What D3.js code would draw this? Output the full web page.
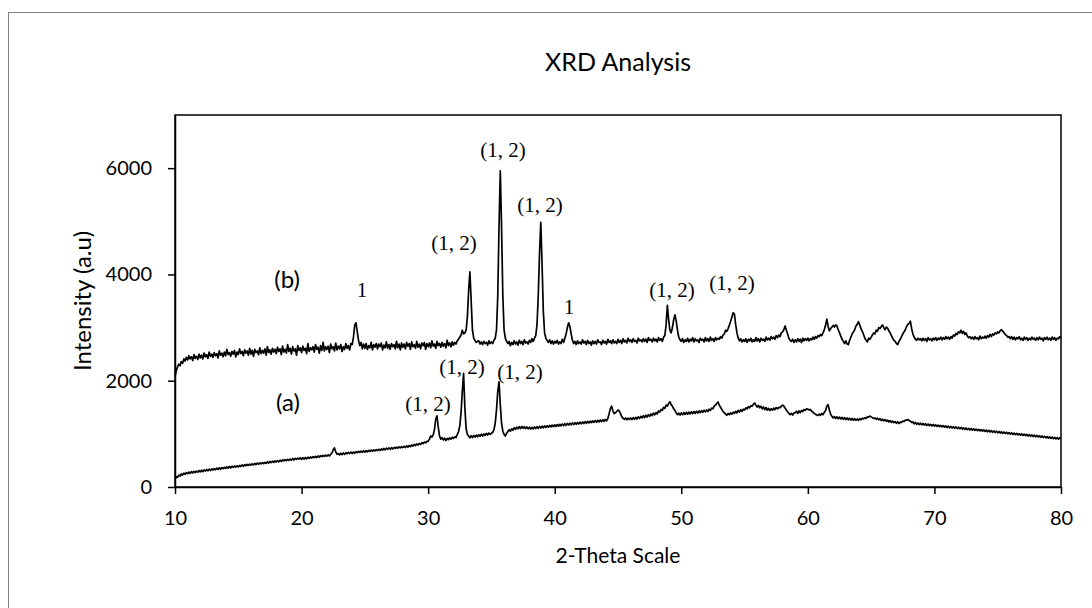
<!DOCTYPE html>
<html>
<head>
<meta charset="utf-8">
<script src="https://cdn.jsdelivr.net/npm/d3@7"></script>
<style>
  body { margin: 0; background: #fff; }
  svg { display: block; }
  .axis path, .axis line { stroke: #000; stroke-width: 1.5; }
  .axis text { font-family: Lato, "Open Sans", sans-serif; font-size: 20px; fill: #000; }
</style>
</head>
<body>
<svg id="chart" width="1092" height="608"></svg>
<script>

// x ticks / y ticks
let xTicks = [10, 20, 30, 40, 50, 60, 70, 80];
let yTicks = [0, 2000, 4000, 6000];

// 2theta sample points (deg), one row per degree
let twoTheta = [
  10.0,10.1,10.2,10.3,10.4,10.5,10.6,10.7,10.8,10.9,
  11.0,11.1,11.2,11.3,11.4,11.5,11.6,11.7,11.8,11.9,
  12.0,12.1,12.2,12.3,12.4,12.5,12.6,12.7,12.8,12.9,
  13.0,13.1,13.2,13.3,13.4,13.5,13.6,13.7,13.8,13.9,
  14.0,14.1,14.2,14.3,14.4,14.5,14.6,14.7,14.8,14.9,
  15.0,15.1,15.2,15.3,15.4,15.5,15.6,15.7,15.8,15.9,
  16.0,16.1,16.2,16.3,16.4,16.5,16.6,16.7,16.8,16.9,
  17.0,17.1,17.2,17.3,17.4,17.5,17.6,17.7,17.8,17.9,
  18.0,18.1,18.2,18.3,18.4,18.5,18.6,18.7,18.8,18.9,
  19.0,19.1,19.2,19.3,19.4,19.5,19.6,19.7,19.8,19.9,
  20.0,20.1,20.2,20.3,20.4,20.5,20.6,20.7,20.8,20.9,
  21.0,21.1,21.2,21.3,21.4,21.5,21.6,21.7,21.8,21.9,
  22.0,22.1,22.2,22.3,22.4,22.5,22.6,22.7,22.8,22.9,
  23.0,23.1,23.2,23.3,23.4,23.5,23.6,23.7,23.8,23.9,
  24.0,24.1,24.2,24.3,24.4,24.5,24.6,24.7,24.8,24.9,
  25.0,25.1,25.2,25.3,25.4,25.5,25.6,25.7,25.8,25.9,
  26.0,26.1,26.2,26.3,26.4,26.5,26.6,26.7,26.8,26.9,
  27.0,27.1,27.2,27.3,27.4,27.5,27.6,27.7,27.8,27.9,
  28.0,28.1,28.2,28.3,28.4,28.5,28.6,28.7,28.8,28.9,
  29.0,29.1,29.2,29.3,29.4,29.5,29.6,29.7,29.8,29.9,
  30.0,30.1,30.2,30.3,30.4,30.5,30.6,30.7,30.8,30.9,
  31.0,31.1,31.2,31.3,31.4,31.5,31.6,31.7,31.8,31.9,
  32.0,32.1,32.2,32.3,32.4,32.5,32.6,32.7,32.8,32.9,
  33.0,33.1,33.2,33.3,33.4,33.5,33.6,33.7,33.8,33.9,
  34.0,34.1,34.2,34.3,34.4,34.5,34.6,34.7,34.8,34.9,
  35.0,35.1,35.2,35.3,35.4,35.5,35.6,35.7,35.8,35.9,
  36.0,36.1,36.2,36.3,36.4,36.5,36.6,36.7,36.8,36.9,
  37.0,37.1,37.2,37.3,37.4,37.5,37.6,37.7,37.8,37.9,
  38.0,38.1,38.2,38.3,38.4,38.5,38.6,38.7,38.8,38.9,
  39.0,39.1,39.2,39.3,39.4,39.5,39.6,39.7,39.8,39.9,
  40.0,40.1,40.2,40.3,40.4,40.5,40.6,40.7,40.8,40.9,
  41.0,41.1,41.2,41.3,41.4,41.5,41.6,41.7,41.8,41.9,
  42.0,42.1,42.2,42.3,42.4,42.5,42.6,42.7,42.8,42.9,
  43.0,43.1,43.2,43.3,43.4,43.5,43.6,43.7,43.8,43.9,
  44.0,44.1,44.2,44.3,44.4,44.5,44.6,44.7,44.8,44.9,
  45.0,45.1,45.2,45.3,45.4,45.5,45.6,45.7,45.8,45.9,
  46.0,46.1,46.2,46.3,46.4,46.5,46.6,46.7,46.8,46.9,
  47.0,47.1,47.2,47.3,47.4,47.5,47.6,47.7,47.8,47.9,
  48.0,48.1,48.2,48.3,48.4,48.5,48.6,48.7,48.8,48.9,
  49.0,49.1,49.2,49.3,49.4,49.5,49.6,49.7,49.8,49.9,
  50.0,50.1,50.2,50.3,50.4,50.5,50.6,50.7,50.8,50.9,
  51.0,51.1,51.2,51.3,51.4,51.5,51.6,51.7,51.8,51.9,
  52.0,52.1,52.2,52.3,52.4,52.5,52.6,52.7,52.8,52.9,
  53.0,53.1,53.2,53.3,53.4,53.5,53.6,53.7,53.8,53.9,
  54.0,54.1,54.2,54.3,54.4,54.5,54.6,54.7,54.8,54.9,
  55.0,55.1,55.2,55.3,55.4,55.5,55.6,55.7,55.8,55.9,
  56.0,56.1,56.2,56.3,56.4,56.5,56.6,56.7,56.8,56.9,
  57.0,57.1,57.2,57.3,57.4,57.5,57.6,57.7,57.8,57.9,
  58.0,58.1,58.2,58.3,58.4,58.5,58.6,58.7,58.8,58.9,
  59.0,59.1,59.2,59.3,59.4,59.5,59.6,59.7,59.8,59.9,
  60.0,60.1,60.2,60.3,60.4,60.5,60.6,60.7,60.8,60.9,
  61.0,61.1,61.2,61.3,61.4,61.5,61.6,61.7,61.8,61.9,
  62.0,62.1,62.2,62.3,62.4,62.5,62.6,62.7,62.8,62.9,
  63.0,63.1,63.2,63.3,63.4,63.5,63.6,63.7,63.8,63.9,
  64.0,64.1,64.2,64.3,64.4,64.5,64.6,64.7,64.8,64.9,
  65.0,65.1,65.2,65.3,65.4,65.5,65.6,65.7,65.8,65.9,
  66.0,66.1,66.2,66.3,66.4,66.5,66.6,66.7,66.8,66.9,
  67.0,67.1,67.2,67.3,67.4,67.5,67.6,67.7,67.8,67.9,
  68.0,68.1,68.2,68.3,68.4,68.5,68.6,68.7,68.8,68.9,
  69.0,69.1,69.2,69.3,69.4,69.5,69.6,69.7,69.8,69.9,
  70.0,70.1,70.2,70.3,70.4,70.5,70.6,70.7,70.8,70.9,
  71.0,71.1,71.2,71.3,71.4,71.5,71.6,71.7,71.8,71.9,
  72.0,72.1,72.2,72.3,72.4,72.5,72.6,72.7,72.8,72.9,
  73.0,73.1,73.2,73.3,73.4,73.5,73.6,73.7,73.8,73.9,
  74.0,74.1,74.2,74.3,74.4,74.5,74.6,74.7,74.8,74.9,
  75.0,75.1,75.2,75.3,75.4,75.5,75.6,75.7,75.8,75.9,
  76.0,76.1,76.2,76.3,76.4,76.5,76.6,76.7,76.8,76.9,
  77.0,77.1,77.2,77.3,77.4,77.5,77.6,77.7,77.8,77.9,
  78.0,78.1,78.2,78.3,78.4,78.5,78.6,78.7,78.8,78.9,
  79.0,79.1,79.2,79.3,79.4,79.5,79.6,79.7,79.8,79.9,
  80.0
];

// sample (b) intensity, same rows as twoTheta
let countsB = [
  2080,2190,2260,2310,2280,2360,2330,2410,2370,2440,
  2390,2470,2410,2450,2380,2490,2420,2460,2400,2500,
  2430,2480,2410,2520,2450,2490,2420,2540,2460,2500,
  2440,2530,2470,2510,2430,2560,2480,2520,2450,2540,
  2470,2590,2490,2530,2460,2550,2500,2570,2450,2540,
  2490,2600,2510,2550,2470,2580,2520,2560,2480,2610,
  2500,2570,2460,2590,2530,2560,2490,2620,2510,2570,
  2520,2600,2480,2640,2530,2580,2500,2610,2540,2590,
  2510,2630,2550,2600,2490,2650,2540,2590,2520,2680,
  2550,2610,2500,2640,2560,2600,2480,2660,2570,2620,
  2530,2650,2570,2610,2510,2700,2550,2620,2580,2640,
  2540,2680,2590,2630,2520,2660,2570,2720,2560,2640,
  2590,2650,2530,2690,2600,2640,2560,2710,2580,2650,
  2600,2680,2550,2640,2590,2700,2610,2660,2580,2700,
  2680,2820,3050,3090,2920,2760,2660,2720,2600,2690,
  2610,2700,2590,2660,2620,2720,2580,2680,2630,2700,
  2600,2690,2640,2710,2580,2670,2620,2730,2610,2680,
  2590,2700,2640,2680,2600,2740,2620,2690,2580,2710,
  2630,2690,2600,2720,2650,2700,2590,2730,2640,2680,
  2610,2740,2630,2690,2600,2710,2660,2720,2590,2700,
  2640,2710,2620,2750,2650,2690,2610,2740,2660,2700,
  2630,2720,2650,2700,2620,2760,2660,2710,2640,2730,
  2670,2720,2690,2750,2780,2820,2860,2950,2880,2900,
  2950,3200,3700,4050,3500,2950,2800,2760,2720,2740,
  2750,2690,2730,2680,2740,2700,2720,2670,2750,2700,
  2730,2700,2760,2800,2950,3600,4900,5950,4900,3600,
  2950,2800,2740,2700,2740,2660,2720,2680,2750,2690,
  2730,2670,2760,2700,2740,2680,2770,2710,2730,2690,
  2760,2720,2790,2740,2800,2850,3050,3600,4400,4980,
  4200,3300,2900,2800,2760,2720,2770,2700,2750,2690,
  2740,2710,2760,2690,2730,2700,2780,2720,2800,2880,
  3000,3090,3020,2880,2760,2700,2740,2680,2750,2700,
  2730,2690,2770,2710,2740,2680,2760,2700,2730,2670,
  2750,2700,2740,2690,2770,2720,2730,2680,2760,2710,
  2740,2690,2780,2720,2750,2700,2770,2710,2740,2700,
  2780,2720,2760,2700,2790,2730,2760,2710,2800,2740,
  2770,2720,2790,2740,2760,2710,2800,2750,2770,2730,
  2790,2740,2780,2720,2810,2760,2780,2730,2800,2750,
  2780,2730,2810,2760,2790,2740,2820,2850,3050,3420,
  3150,2950,2900,3000,3150,3240,3120,2950,2820,2770,
  2740,2790,2720,2770,2740,2800,2730,2780,2750,2810,
  2730,2790,2750,2770,2720,2800,2760,2780,2730,2810,
  2750,2790,2740,2820,2760,2790,2740,2810,2770,2800,
  2780,2830,2800,2860,2880,2950,2930,2980,3050,3120,
  3200,3280,3250,3050,2900,2800,2750,2790,2730,2770,
  2740,2790,2720,2780,2750,2800,2730,2770,2740,2810,
  2750,2790,2730,2800,2760,2780,2740,2820,2770,2800,
  2760,2830,2790,2820,2780,2850,2810,2860,2830,2900,
  2920,2960,3030,2950,2880,2800,2760,2740,2780,2720,
  2770,2730,2790,2740,2780,2720,2800,2750,2790,2760,
  2800,2750,2790,2770,2820,2780,2830,2800,2850,2830,
  2870,2850,2900,2960,3050,3160,3020,2940,2980,3010,
  3040,3010,3050,3030,2960,2900,2840,2780,2740,2700,
  2750,2690,2680,2760,2820,2880,2920,2960,3030,3060,
  3110,3050,2980,2930,2870,2800,2760,2730,2800,2780,
  2820,2860,2900,2880,2950,2930,3000,2980,3020,3050,
  3000,2960,3010,2990,2940,2900,2850,2800,2760,2740,
  2700,2680,2740,2780,2830,2880,2920,2960,3020,3060,
  3080,3120,2980,2880,2820,2780,2760,2800,2770,2790,
  2750,2800,2760,2790,2740,2810,2770,2790,2750,2800,
  2770,2810,2760,2800,2780,2820,2770,2810,2780,2830,
  2790,2820,2780,2830,2800,2860,2840,2890,2870,2920,
  2900,2950,2890,2930,2870,2900,2840,2810,2830,2790,
  2820,2780,2830,2790,2810,2770,2840,2790,2820,2800,
  2840,2800,2850,2820,2870,2830,2880,2860,2900,2880,
  2920,2900,2940,2960,2930,2900,2870,2850,2820,2830,
  2790,2830,2780,2820,2770,2810,2790,2830,2770,2800,
  2760,2820,2780,2810,2760,2800,2770,2820,2780,2800,
  2760,2810,2770,2820,2780,2800,2750,2810,2780,2820,
  2770,2800,2760,2820,2780,2810,2760,2800,2790,2830,
  2800
];

// sample (a) intensity, same rows as twoTheta
let countsA = [
  150,190,180,225,205,245,225,260,240,270,
  250,280,255,290,265,295,270,300,280,310,
  285,315,290,320,300,330,305,335,310,340,
  320,345,325,355,330,360,335,365,345,370,
  350,380,355,385,360,390,370,395,375,400,
  380,405,385,415,390,420,400,425,405,430,
  410,435,415,445,420,450,430,455,435,460,
  440,465,445,475,450,480,460,485,465,490,
  470,495,475,505,480,510,490,515,495,520,
  500,525,505,535,510,540,520,545,525,550,
  520,550,525,555,530,560,540,565,545,570,
  550,575,555,585,560,590,570,595,575,600,
  580,605,585,615,640,700,735,660,615,630,
  605,635,610,640,615,645,625,650,630,655,
  630,660,635,665,645,670,650,675,655,680,
  655,685,660,690,670,695,675,700,680,705,
  685,710,690,715,695,725,700,730,710,735,
  710,740,715,745,725,750,730,755,735,760,
  740,765,745,775,750,780,760,790,770,800,
  780,810,790,820,800,835,815,845,830,860,
  860,900,960,940,980,1080,1280,1340,1120,960,
  900,930,885,920,875,915,890,925,900,935,
  915,945,930,985,1040,1150,1400,1800,2140,1500,
  1100,990,960,925,965,930,970,940,975,945,
  985,955,995,960,1000,970,1010,980,1015,990,
  1010,1030,1080,1200,1450,1800,1980,1550,1200,1050,
  990,960,1010,1045,1080,1050,1095,1070,1115,1085,
  1125,1095,1135,1100,1140,1105,1135,1100,1130,1095,
  1125,1090,1120,1095,1130,1100,1135,1105,1140,1110,
  1145,1115,1150,1120,1155,1125,1160,1130,1165,1135,
  1170,1140,1175,1145,1180,1150,1185,1155,1190,1160,
  1195,1165,1200,1170,1205,1175,1210,1180,1215,1185,
  1220,1190,1225,1195,1230,1200,1235,1205,1240,1210,
  1245,1215,1250,1220,1255,1225,1260,1230,1265,1235,
  1270,1245,1290,1380,1480,1520,1430,1380,1400,1420,
  1450,1430,1380,1320,1295,1270,1300,1265,1295,1270,
  1300,1270,1305,1275,1310,1280,1320,1290,1330,1300,
  1340,1305,1350,1315,1360,1330,1375,1345,1390,1360,
  1400,1375,1430,1410,1460,1440,1500,1480,1540,1520,
  1570,1605,1550,1520,1470,1440,1395,1360,1390,1355,
  1395,1360,1400,1365,1405,1370,1410,1375,1415,1380,
  1420,1385,1425,1390,1430,1400,1435,1405,1445,1415,
  1450,1420,1465,1440,1485,1470,1520,1540,1570,1600,
  1540,1500,1460,1420,1400,1370,1350,1385,1360,1395,
  1370,1410,1385,1425,1395,1440,1410,1455,1425,1465,
  1450,1490,1470,1510,1490,1530,1520,1560,1580,1540,
  1505,1535,1490,1520,1470,1505,1455,1495,1445,1480,
  1440,1475,1445,1485,1455,1495,1470,1500,1490,1520,
  1540,1520,1485,1450,1415,1385,1360,1385,1355,1390,
  1400,1425,1385,1430,1400,1440,1420,1460,1440,1470,
  1465,1450,1460,1425,1410,1385,1370,1355,1345,1370,
  1350,1385,1360,1405,1440,1520,1550,1450,1370,1330,
  1300,1325,1290,1320,1285,1315,1280,1310,1275,1305,
  1270,1300,1265,1295,1260,1290,1255,1285,1255,1280,
  1255,1285,1265,1295,1280,1305,1290,1320,1315,1335,
  1320,1305,1290,1300,1275,1295,1265,1285,1250,1275,
  1245,1270,1235,1260,1225,1250,1215,1240,1210,1230,
  1200,1225,1195,1220,1215,1240,1235,1260,1255,1270,
  1250,1240,1215,1225,1190,1215,1180,1205,1175,1200,
  1170,1195,1165,1190,1160,1185,1155,1180,1150,1175,
  1145,1170,1140,1165,1135,1160,1130,1155,1125,1150,
  1120,1145,1115,1140,1110,1135,1105,1130,1100,1125,
  1095,1120,1090,1115,1085,1110,1080,1105,1075,1100,
  1070,1095,1065,1090,1060,1085,1055,1080,1050,1075,
  1045,1070,1040,1065,1035,1060,1030,1055,1025,1050,
  1020,1045,1015,1040,1010,1035,1005,1030,1000,1025,
  995,1020,990,1015,985,1010,980,1005,975,1000,
  970,995,965,990,960,985,955,980,950,975,
  945,970,940,965,935,960,930,955,925,950,
  920,945,915,940,910,935,905,930,900,925,
  920
];

// peak labels, placed in data units [2theta, intensity, text]
let peakLabels = [
  [24.77, 3707, "1"],
  [32.04, 4592, "(1, 2)"],
  [35.91, 6342, "(1, 2)"],
  [38.84, 5307, "(1, 2)"],
  [41.13, 3387, "1"],
  [49.27, 3707, "(1, 2)"],
  [54.01, 3839, "(1, 2)"],
  [29.99, 1562, "(1, 2)"],
  [32.68, 2258, "(1, 2)"],
  [37.26, 2164, "(1, 2)"]
];
let sampleLabels = [
  [18.85, 3895, "(b)"],
  [18.93, 1581, "(a)"]
];


let svg = d3.select("#chart"),
    margin = {top: 115, right: 31, bottom: 121, left: 175},
    width = +svg.attr("width") - margin.left - margin.right,
    height = +svg.attr("height") - margin.top - margin.bottom;

// outer frame (runs off the right/bottom edge like the original)
svg.append("rect")
    .attr("x", 8.5).attr("y", 12.5)
    .attr("width", 1100).attr("height", 620)
    .attr("fill", "none")
    .attr("stroke", "#7f7f7f")
    .attr("stroke-width", 1);

svg.append("text")
    .attr("x", margin.left + width / 2)
    .attr("y", 71)
    .attr("text-anchor", "middle")
    .style("font-family", "Lato, 'Open Sans', sans-serif")
    .style("font-size", "25px")
    .text("XRD Analysis");

let x = d3.scaleLinear().domain([10, 80]).range([0, width]),
    y = d3.scaleLinear().domain([0, 7000]).range([height, 0]);

let g = svg.append("g")
    .attr("transform", "translate(" + margin.left + "," + margin.top + ")");

// plot box
g.append("rect")
    .attr("width", width).attr("height", height)
    .attr("fill", "none")
    .attr("stroke", "#000")
    .attr("stroke-width", 1.5);

g.append("g")
    .attr("class", "axis axis--x")
    .attr("transform", "translate(0," + height + ")")
    .call(d3.axisBottom(x).tickValues(xTicks).tickSize(7).tickPadding(17).tickSizeOuter(0));

g.append("g")
    .attr("class", "axis axis--y")
    .call(d3.axisLeft(y).tickValues(yTicks).tickFormat(d3.format("d")).tickSize(7).tickPadding(16).tickSizeOuter(0));

// axis titles
g.append("text")
    .attr("x", width / 2)
    .attr("y", height + 76)
    .attr("text-anchor", "middle")
    .style("font-family", "Lato, 'Open Sans', sans-serif")
    .style("font-size", "21px")
    .text("2-Theta Scale");

g.append("text")
    .attr("transform", "rotate(-90)")
    .attr("x", -height / 2)
    .attr("y", -84)
    .attr("text-anchor", "middle")
    .style("font-family", "Lato, 'Open Sans', sans-serif")
    .style("font-size", "24px")
    .text("Intensity (a.u)");

//the two scans, zip angle + counts
let line = d3.line()
    .x(function(d) { return x(d[0]); })
    .y(function(d) { return y(d[1]); });

[countsA, countsB].forEach(function(counts) {
  let pts = twoTheta.map(function(t, i) { return [t, counts[i]]; });
  g.append("path")
      .datum(pts)
      .attr("fill", "none")
      .attr("stroke", "#000")
      .attr("stroke-width", 1.7)
      .attr("stroke-linejoin", "round")
      .attr("d", line);
});

g.selectAll(".peak-label")
  .data(peakLabels)
  .enter().append("text")
    .attr("class", "peak-label")
    .attr("x", function(d) { return x(d[0]); })
    .attr("y", function(d) { return y(d[1]); })
    .attr("dy", "0.35em")
    .attr("text-anchor", "middle")
    .style("font-family", "'Liberation Serif', 'Times New Roman', serif")
    .style("font-size", "21px")
    .text(function(d) { return d[2]; });

g.selectAll(".sample-label")
  .data(sampleLabels)
  .enter().append("text")
    .attr("class", "sample-label")
    .attr("x", function(d) { return x(d[0]); })
    .attr("y", function(d) { return y(d[1]); })
    .attr("dy", "0.35em")
    .attr("text-anchor", "middle")
    .style("font-family", "Lato, 'Open Sans', sans-serif")
    .style("font-size", "24px")
    .text(function(d) { return d[2]; });

</script>
</body>
</html>
